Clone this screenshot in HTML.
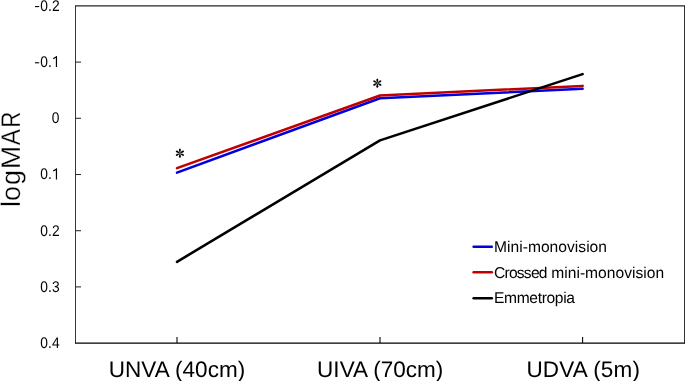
<!DOCTYPE html>
<html>
<head>
<meta charset="utf-8">
<style>
html,body{margin:0;padding:0;background:#fff;}
body{width:685px;height:381px;overflow:hidden;}
svg{display:block;}
text{font-family:"Liberation Sans",sans-serif;fill:#000;text-rendering:geometricPrecision;}
svg{will-change:transform;}
</style>
</head>
<body>
<svg width="685" height="381" viewBox="0 0 685 381">
<rect x="0" y="0" width="685" height="381" fill="#fff"/>
<!-- frame -->
<g fill="none" stroke="#000">
<line x1="75.5" y1="5.9" x2="75.5" y2="343.15" stroke="#383838" stroke-width="1"/>
<line x1="684.5" y1="5.9" x2="684.5" y2="343.15" stroke="#333" stroke-width="1"/>
<line x1="75" y1="5.9" x2="685" y2="5.9" stroke="#262626" stroke-width="1.07"/>
<line x1="75" y1="343.15" x2="685" y2="343.15" stroke-width="1.07"/>
<!-- y ticks --><g stroke="#2a2a2a">
<line x1="75" y1="62.1" x2="81" y2="62.1" stroke-width="1.07"/>
<line x1="75" y1="118.3" x2="81" y2="118.3" stroke-width="1.07"/>
<line x1="75" y1="174.5" x2="81" y2="174.5" stroke-width="1.07"/>
<line x1="75" y1="230.7" x2="81" y2="230.7" stroke-width="1.07"/>
<line x1="75" y1="286.9" x2="81" y2="286.9" stroke-width="1.07"/>
</g><!-- x ticks -->
<line x1="177" y1="337" x2="177" y2="343" stroke-width="1.07"/>
<line x1="380" y1="337" x2="380" y2="343" stroke-width="1.07"/>
<line x1="582.6" y1="337" x2="582.6" y2="343" stroke-width="1.07"/>
</g>
<!-- y labels -->
<g font-size="15.4" transform="scale(0.897,1)">
<text x="44.88 53.61 57.94" y="10.80">0.2</text>
<text x="44.88 53.61" y="67.00">0.</text>
<text x="57.75" y="123.20">0</text>
<text x="44.88 53.61" y="179.40">0.</text>
<text x="44.88 53.61 57.94" y="235.60">0.2</text>
<text x="44.88 53.61 57.94" y="291.80">0.3</text>
<text x="44.88 53.61 57.94" y="348.05">0.4</text>
</g>
<!-- ones -->
<path d="M56.45 67.00V56.75L53.2 58.7" fill="none" stroke="#000" stroke-width="1.2" stroke-linejoin="miter"/>
<path d="M56.45 179.40V169.15L53.2 171.1" fill="none" stroke="#000" stroke-width="1.2" stroke-linejoin="miter"/>
<line x1="35.0" y1="6.58" x2="39.2" y2="6.58" stroke="#000" stroke-width="1.1"/>
<line x1="35.0" y1="62.78" x2="39.2" y2="62.78" stroke="#000" stroke-width="1.1"/>
<!-- y title -->
<g font-size="27" transform="translate(19.7,207.6) rotate(-90)" stroke="#fff" stroke-width="0.3"><text x="0.68">l</text><text x="6.67">o</text><text x="22.57">g</text><text transform="translate(38.38,0) scale(1.046,1)">M</text><text transform="translate(62.45,0) scale(0.894,1)">A</text><text transform="translate(79.78,0) scale(0.823,1)">R</text></g>
<!-- x labels -->
<g font-size="22.5" text-anchor="middle">
<text x="177" y="377" textLength="136.5">UNVA (40cm)</text>
<text x="380.2" y="377" textLength="126.3">UIVA (70cm)</text>
<text x="583.2" y="377" textLength="113.5">UDVA (5m)</text>
</g>
<!-- data -->
<g fill="none" stroke-width="2.55" stroke-linecap="round" stroke-linejoin="round">
<polyline stroke="#0000e0" points="177,172.6 380,98.2 582.6,88.8"/>
<polyline stroke="#c00000" points="177,168.1 380,95.5 582.6,85.9"/>
<polyline stroke="#000" points="177,261.8 380,140.4 582.6,74.1"/>
</g>
<!-- asterisks -->
<defs>
<path id="arm" d="M-0.3 -0.4L0.3 -0.4L1.0 -3.1Q1.0 -4.65 0 -4.65Q-1.0 -4.65 -1.0 -3.1Z" fill="#000"/>
<g id="ast">
<use href="#arm"/><use href="#arm" transform="rotate(60)"/><use href="#arm" transform="rotate(120)"/>
<use href="#arm" transform="rotate(180)"/><use href="#arm" transform="rotate(240)"/><use href="#arm" transform="rotate(300)"/>
</g>
</defs>
<use href="#ast" x="179.9" y="153.2"/>
<use href="#ast" x="377.3" y="83.05"/>
<!-- legend -->
<g stroke-width="2.5" stroke-linecap="round">
<line x1="473.6" y1="246.75" x2="491.8" y2="246.75" stroke="#0000e0"/>
<line x1="473.6" y1="272.3" x2="491.8" y2="272.3" stroke="#c00000"/>
<line x1="473.6" y1="298.2" x2="491.8" y2="298.2" stroke="#000"/>
</g>
<g font-size="15.6">
<text x="494" y="251.8" textLength="113">Mini-monovision</text>
<text x="494" y="277.8" textLength="53.5">Crossed</text><text x="551.2" y="277.8" textLength="113">mini-monovision</text>
<text x="494" y="303.2" textLength="81">Emmetropia</text>
</g>
</svg>
</body>
</html>
